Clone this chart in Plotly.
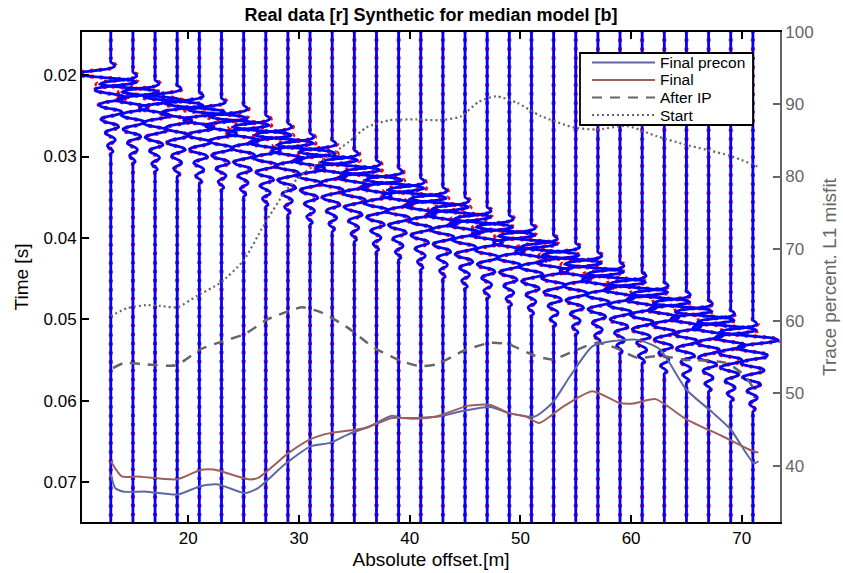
import plotly.graph_objects as go

# ---------------- data ----------------
offsets = [13, 15, 17, 19, 21, 23, 25, 27, 29, 31, 33, 35, 37, 39, 41,
           43, 45, 47, 49, 51, 53, 55, 57, 59, 61, 63, 65, 67, 69, 71]
onsets = [0.01840, 0.01963, 0.02061, 0.02123, 0.02209, 0.02283, 0.02369, 0.02491,
          0.02590, 0.02713, 0.02799, 0.02921, 0.03044, 0.03143, 0.03265, 0.03376,
          0.03499, 0.03622, 0.03720, 0.03830, 0.03966, 0.04064, 0.04174, 0.04297,
          0.04420, 0.04543, 0.04654, 0.04764, 0.04887, 0.05010]
wavelet_dt = 0.00025
wavelet_syn = [0, 0.25, 0.35, 0.0, -1.2, -2.6, -3.0, -1.8, 0.3, 1.9, 2.3, 1.3, -0.3, -1.3,
               -1.4, -0.6, 0.6, 1.3, 1.2, 0.3, -0.7, -1.1, -0.8, 0.1, 0.9, 1.0, 0.4, -0.5,
               -0.9, -0.7, 0.0, 0.6, 0.7, 0.2, -0.4, -0.5, -0.2, 0.2, 0.4, 0.3, -0.1,
               -0.3, -0.2, 0.1, 0.2, 0.0]
wavelet_obs = [0, 0.35, 0.45, 0.05, -1.3, -2.9, -3.3, -2.0, 0.2, 2.0, 2.5, 1.5, -0.2, -1.3,
               -1.5, -0.7, 0.5, 1.3, 1.3, 0.4, -0.6, -1.1, -0.9, 0.0, 0.8, 1.0, 0.5, -0.4,
               -0.9, -0.8, -0.1, 0.5, 0.7, 0.3, -0.3, -0.5, -0.3, 0.1, 0.3, 0.3, 0.0,
               -0.3, -0.2, 0.1, 0.2, 0.0]

start_x = [13.0, 14.5, 16.2, 17.5, 19.0, 20.8, 22.9, 25.0, 26.8, 28.9, 30.7, 32.5, 34.5,
           36.1, 38.2, 40.6, 42.7, 44.6, 46.2, 47.8, 49.7, 51.8, 54.8, 56.9, 59.6, 62.3,
           64.7, 66.8, 68.9, 71.4]
start_v = [60.7, 61.8, 62.2, 62.1, 61.9, 63.5, 65.3, 68.4, 73.2, 78.2, 80.8, 82.6, 84.8,
           86.8, 87.8, 87.9, 87.8, 88.3, 90.3, 91.1, 90.2, 88.4, 86.8, 86.5, 87.0, 85.6,
           84.5, 83.7, 82.9, 81.4]
afterip_x = [13.2, 14.2, 16.2, 18.9, 21.1, 23.1, 25.1, 27.1, 29.1, 30.3, 32.0, 34.4, 36.8,
             39.2, 40.8, 42.4, 44.9, 47.3, 48.9, 51.3, 52.9, 54.9, 56.9, 58.6, 60.6, 62.6,
             64.6, 68.6, 70.3, 71.3]
afterip_v = [53.5, 54.2, 54.0, 53.9, 56.1, 57.2, 58.2, 60.2, 61.4, 61.9, 61.2, 59.1, 56.3,
             54.5, 53.8, 54.0, 55.9, 57.0, 56.8, 55.2, 54.7, 55.9, 57.0, 56.3, 54.9, 55.2,
             54.7, 54.2, 52.4, 50.1]
precon_x = [13.0, 13.4, 14.2, 16.2, 19.0, 21.1, 22.7, 25.1, 26.3, 28.7, 31.1, 32.8, 34.4,
            36.4, 38.4, 39.2, 42.4, 44.9, 47.3, 48.9, 51.3, 52.9, 54.5, 56.5, 58.2, 60.6,
            62.6, 65.0, 67.4, 69.0, 71.1, 71.5]
precon_v = [38.8, 36.9, 36.4, 36.4, 36.0, 37.15, 37.4, 36.2, 36.9, 40.15, 42.7, 43.15, 44.3,
            45.45, 46.9, 46.6, 46.75, 47.6, 48.1, 47.3, 46.8, 48.7, 52.4, 56.5, 57.2, 57.4,
            56.1, 50.5, 47.3, 45.0, 40.3, 40.6]
final_x = [13.0, 14.0, 15.4, 19.0, 21.1, 22.3, 25.5, 26.3, 29.1, 31.1, 32.8, 36.0, 38.4,
           40.4, 42.4, 45.3, 47.3, 48.9, 50.5, 51.7, 53.7, 56.5, 58.9, 60.2, 62.2, 65.0,
           68.2, 70.7, 71.5]
final_v = [40.6, 38.5, 38.5, 38.1, 39.4, 39.45, 38.1, 38.3, 41.8, 43.7, 44.5, 45.2, 46.6,
           46.5, 46.8, 48.3, 48.4, 47.3, 46.8, 45.9, 48.0, 50.3, 48.7, 48.6, 49.2, 46.4,
           44.1, 42.2, 41.8]

x_ticks = [20, 30, 40, 50, 60, 70]
t_ticks = [0.02, 0.03, 0.04, 0.05, 0.06, 0.07]
t_ticktext = ["0.02", "0.03", "0.04", "0.05", "0.06", "0.07"]
m_ticks = [40, 50, 60, 70, 80, 90, 100]

legend_names = ["Final precon", "Final", "After IP", "Start"]
legend_colors = ["#5d68a3", "#9c5f5c", "#666666", "#666666"]
legend_dashes = ["solid", "solid", "10px,8px", "2px,3px"]

# ---------------- figure ----------------
W, H = 843, 573
ML, MR, MT, MB = 82, 63, 32, 51
PW, PH = W - ML - MR, H - MT - MB

fig = go.Figure()


def trace_xy(off, t0, wav):
    ts = [0.0, t0 - 0.0005, t0]
    xs = [off, off, off]
    for k, w in enumerate(wav[1:], start=1):
        ts.append(t0 + k * wavelet_dt)
        xs.append(off + w)
    ts += [ts[-1] + 0.0005, 0.1]
    xs += [off, off]
    return xs, ts


for off, t0 in zip(offsets, onsets):
    xs, ts = trace_xy(off, t0, wavelet_obs)
    fig.add_trace(go.Scatter(x=xs, y=ts, mode="lines", showlegend=False, hoverinfo="skip",
                             line=dict(color="#ff0000", width=4, dash="3px,6px",
                                       shape="spline", smoothing=0.8)))
for off, t0 in zip(offsets, onsets):
    xs, ts = trace_xy(off, t0, wavelet_syn)
    fig.add_trace(go.Scatter(x=xs, y=ts, mode="lines", showlegend=False, hoverinfo="skip",
                             line=dict(color="#0000ff", width=2.8,
                                       shape="spline", smoothing=0.8)))

fig.add_trace(go.Scatter(x=precon_x, y=precon_v, yaxis="y2", mode="lines",
                         name="Final precon", showlegend=False,
                         line=dict(color=legend_colors[0], width=2, shape="spline", smoothing=0.6)))
fig.add_trace(go.Scatter(x=final_x, y=final_v, yaxis="y2", mode="lines", name="Final",
                         showlegend=False,
                         line=dict(color=legend_colors[1], width=2, shape="spline", smoothing=0.6)))
fig.add_trace(go.Scatter(x=afterip_x, y=afterip_v, yaxis="y2", mode="lines", name="After IP",
                         showlegend=False,
                         line=dict(color=legend_colors[2], width=2.5, dash=legend_dashes[2],
                                   shape="spline", smoothing=0.6)))
fig.add_trace(go.Scatter(x=start_x, y=start_v, yaxis="y2", mode="lines", name="Start",
                         showlegend=False,
                         line=dict(color=legend_colors[3], width=2.2, dash=legend_dashes[3],
                                   shape="spline", smoothing=0.6)))


# ----- custom legend box (MATLAB style, long line samples) -----
def px(xp):
    return (xp - ML) / PW


def py(yp):
    return (H - MB - yp) / PH


shapes = [dict(type="rect", xref="paper", yref="paper",
               x0=px(580), x1=px(753), y0=py(125), y1=py(53),
               line=dict(color="black", width=1.8), fillcolor="white", layer="above")]
annotations = []
row_y = [62.5, 80, 97.5, 115]
for name, col, dsh, yy in zip(legend_names, legend_colors, legend_dashes, row_y):
    shapes.append(dict(type="line", xref="paper", yref="paper",
                       x0=px(592), x1=px(655), y0=py(yy), y1=py(yy),
                       line=dict(color=col, width=2, dash=dsh), layer="above"))
    annotations.append(dict(xref="paper", yref="paper", x=px(659), y=py(yy),
                            xanchor="left", yanchor="middle", showarrow=False,
                            borderpad=0,
                            text=name, font=dict(size=15.5, color="black")))

font_family = "Liberation Sans, Arial, Helvetica, sans-serif"

fig.update_layout(
    width=W, height=H,
    margin=dict(l=ML, r=MR, t=MT, b=MB, autoexpand=False),
    paper_bgcolor="white", plot_bgcolor="white",
    font=dict(family=font_family, size=17, color="black"),
    title=dict(text="<b>Real data [r] Synthetic for median model [b]</b>",
               x=0.5, xref="paper", xanchor="center",
               y=1 - 15 / H, yref="container", yanchor="middle",
               font=dict(size=18, color="black")),
    xaxis=dict(range=[10.4, 73.45], tickvals=x_ticks, ticks="inside", ticklen=7,
               tickwidth=1.5, tickcolor="black", automargin=False,
               showline=True, linecolor="black", linewidth=1.8, mirror="ticks",
               showgrid=False, zeroline=False, tickfont=dict(size=17),
               title=dict(text="Absolute offset.[m]", font=dict(size=19), standoff=5)),
    yaxis=dict(range=[0.0749, 0.0147], tickvals=t_ticks, ticktext=t_ticktext,
               ticks="inside", ticklen=7, tickwidth=1.5, tickcolor="black", automargin=False,
               showline=True, linecolor="black", linewidth=1.8,
               showgrid=False, zeroline=False, tickfont=dict(size=17),
               title=dict(text="Time [s]", font=dict(size=19), standoff=10)),
    yaxis2=dict(range=[32.2, 100], tickvals=m_ticks, overlaying="y", side="right",
                ticks="inside", ticklen=7, tickwidth=1.5, tickcolor="#666666", automargin=False,
                showline=True, linecolor="#666666", linewidth=1.8,
                showgrid=False, zeroline=False,
                tickfont=dict(size=17, color="#666666"),
                title=dict(text="Trace percent. L1 misfit",
                           font=dict(size=19, color="#666666"), standoff=10)),
    shapes=shapes,
    annotations=annotations,
    showlegend=False,
)

fig.write_html("out.html")
